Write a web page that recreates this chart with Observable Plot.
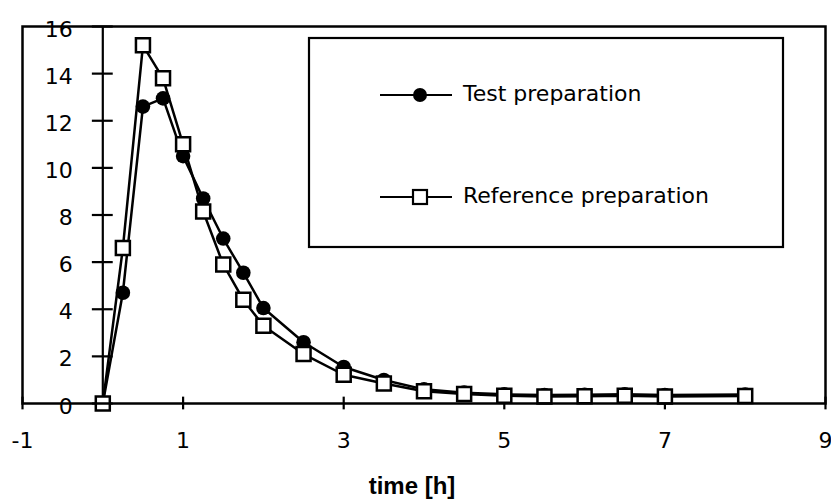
<!DOCTYPE html>
<html><head><meta charset="utf-8">
<script src="https://cdn.jsdelivr.net/npm/d3@7"></script>
<script src="https://cdn.jsdelivr.net/npm/@observablehq/plot@0.6"></script>
<style>
body{margin:0;background:#fff;}
#wrap{position:relative;width:831px;height:502px;}
#legend{position:absolute;left:0;top:0;}
</style></head><body><div id="wrap"></div>
<script>
const times = [0,0.25,0.5,0.75,1,1.25,1.5,1.75,2,2.5,3,3.5,4,4.5,5,5.5,6,6.5,7,8];
const testValues = [0,4.7,12.6,12.95,10.5,8.7,7.0,5.55,4.05,2.6,1.55,1.0,0.6,0.46,0.39,0.36,0.37,0.39,0.36,0.38];
const referenceValues = [0,6.6,15.2,13.8,11.0,8.15,5.9,4.4,3.3,2.1,1.22,0.85,0.52,0.4,0.33,0.3,0.31,0.33,0.3,0.32];
const xTicks = [-1,1,3,5,7,9];
const xTickLabels = ["-1","1","3","5","7","9"];
const yTicks = [0,2,4,6,8,10,12,14,16];
const yTickLabels = ["0","2","4","6","8","10","12","14","16"];
const seriesNames = ["Test preparation","Reference preparation"];
const xAxisTitle = "time [h]";

const testData = times.map((t,i)=>({t, v:testValues[i]}));
const refData = times.map((t,i)=>({t, v:referenceValues[i]}));

const chart = Plot.plot({
  width: 831, height: 502,
  marginLeft: 22, marginRight: 6, marginTop: 26, marginBottom: 99,
  x: {domain: [-1, 9], axis: null},
  y: {domain: [0, 16], axis: null},
  style: {fontFamily: "DejaVu Sans", fontSize: "22px", background: "#fff", color: "#000"},
  marks: [
    Plot.ruleX([0], {stroke: "#000", strokeWidth: 2.2}),
    Plot.ruleY(yTicks, {x1: -0.13, x2: 0.13, stroke: "#000", strokeWidth: 2.2}),
    Plot.ruleX(xTicks, {y1: -0.27, y2: 0.27, stroke: "#000", strokeWidth: 2.2}),
    Plot.text(yTicks, {x: 0, y: d => d, text: (d, i) => yTickLabels[i], textAnchor: "end", dx: -30, dy: 3, fontSize: 22, fill: "#000"}),
    Plot.text(xTicks, {x: d => d, y: 0, text: (d, i) => xTickLabels[i], dy: 37, fontSize: 22, fill: "#000"}),
    Plot.line(testData, {x: "t", y: "v", stroke: "#000", strokeWidth: 2.5}),
    Plot.dot(testData, {x: "t", y: "v", r: 7.3, fill: "#000", symbol: "circle"}),
    Plot.line(refData, {x: "t", y: "v", stroke: "#000", strokeWidth: 2.5}),
    Plot.dot(refData, {x: "t", y: "v", r: 7.9, symbol: "square", fill: "#fff", stroke: "#000", strokeWidth: 2.5}),
    Plot.frame({stroke: "#000", strokeWidth: 2.5}),
    Plot.text([xAxisTitle], {frameAnchor: "bottom", dx: -12, dy: 90, fontWeight: "bold", fontFamily: "Liberation Sans", fontSize: 24, fill: "#000"})
  ]
});
const wrap = document.getElementById("wrap");
wrap.appendChild(chart);

// Legend overlay (inside the plot area, as in the original)
const lg = d3.select(wrap).append("svg").attr("id", "legend")
  .attr("width", 831).attr("height", 502)
  .attr("font-family", "DejaVu Sans").attr("font-size", 22);
lg.append("rect").attr("x", 309).attr("y", 38).attr("width", 474).attr("height", 209)
  .attr("fill", "#fff").attr("stroke", "#000").attr("stroke-width", 2.2);
const rows = [{y: 95, name: seriesNames[0], sym: "circle"}, {y: 197, name: seriesNames[1], sym: "square"}];
rows.forEach(r => {
  lg.append("line").attr("x1", 380).attr("x2", 452).attr("y1", r.y).attr("y2", r.y)
    .attr("stroke", "#000").attr("stroke-width", 2.2);
  if (r.sym === "circle") {
    lg.append("circle").attr("cx", 420).attr("cy", r.y).attr("r", 7).attr("fill", "#000");
  } else {
    lg.append("rect").attr("x", 413).attr("y", r.y - 7).attr("width", 14).attr("height", 14)
      .attr("fill", "#fff").attr("stroke", "#000").attr("stroke-width", 2.2);
  }
  lg.append("text").attr("x", 463).attr("y", r.y + 6).attr("fill", "#000").text(r.name);
});
</script></body></html>
